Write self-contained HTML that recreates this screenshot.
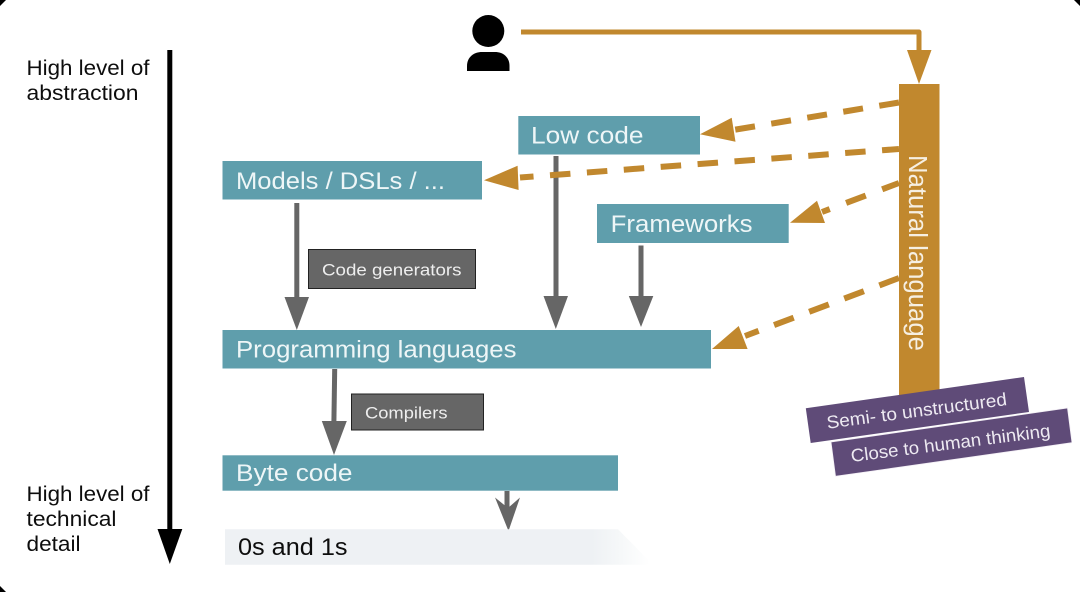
<!DOCTYPE html>
<html><head><meta charset="utf-8"><style>
html,body{margin:0;padding:0;background:#fff;width:1080px;height:592px;overflow:hidden}
svg{display:block}
text{font-family:"Liberation Sans",sans-serif}
</style></head><body>
<svg width="1080" height="592" viewBox="0 0 1080 592" xmlns="http://www.w3.org/2000/svg">
<defs>
<linearGradient id="f" gradientUnits="userSpaceOnUse" x1="592" y1="0" x2="650" y2="0">
<stop offset="0" stop-color="#eef1f4"/><stop offset="0.5" stop-color="#f6f8f9"/><stop offset="1" stop-color="#fff"/>
</linearGradient>
<filter id="b" x="0" y="0" width="100%" height="100%"><feGaussianBlur stdDeviation="0.35"/></filter>
</defs>
<rect width="1080" height="592" fill="#fff"/>
<g fill="#000">
<polygon points="0,0 6,0 0,6"/>
<polygon points="1080,0 1074,0 1080,6"/>
<polygon points="0,592 6,592 0,586"/>
</g>
<g filter="url(#b)">
<!-- left axis -->
<rect x="167.300" y="50" width="5" height="480" fill="#000"/>
<polygon points="157.500,529 182.300,529 169.800,564" fill="#000"/>
<g font-size="21" fill="#111">
<text x="26.500" y="75" textLength="123" lengthAdjust="spacingAndGlyphs">High level of</text>
<text x="26.500" y="100" textLength="112" lengthAdjust="spacingAndGlyphs">abstraction</text>
<text x="26.500" y="501" textLength="123" lengthAdjust="spacingAndGlyphs">High level of</text>
<text x="26.500" y="526" textLength="90" lengthAdjust="spacingAndGlyphs">technical</text>
<text x="26.500" y="551" textLength="54" lengthAdjust="spacingAndGlyphs">detail</text>
</g>

<!-- person -->
<ellipse cx="488.300" cy="31" rx="16" ry="16" fill="#000"/>
<path d="M467 71 V66 C467 57 474 52 482 52 H495 C503 52 509.500 57 509.500 66 V71 Z" fill="#000"/>

<!-- grey arrows -->
<g fill="#666" stroke="none">
<rect x="294.300" y="203" width="5" height="95"/>
<polygon points="284.500,297 309,297 296.800,330"/>
<rect x="553.500" y="156" width="5" height="141"/>
<polygon points="543.500,296 568,296 555.800,329"/>
<rect x="638.500" y="245.500" width="5" height="51"/>
<polygon points="628.800,296 653.300,296 641,327"/>
<polygon points="332.200,369 337.200,369 336.400,422 331.400,422"/>
<polygon points="321.800,421 346.800,421 334,455"/>
<rect x="504.500" y="491" width="5" height="20"/>
<polygon points="495,497.500 508,508 520,497.500 508.500,531"/>
</g>

<!-- teal boxes -->
<g fill="#5f9eac">
<rect x="222.500" y="161" width="259.500" height="38.500"/>
<rect x="518.300" y="116" width="181.700" height="38.500"/>
<rect x="597" y="204" width="191.700" height="39"/>
<rect x="222.500" y="330" width="488.500" height="38.500"/>
<rect x="222.500" y="455.300" width="395.500" height="35.400"/>
</g>
<g font-size="24" fill="#eef6f7">
<text x="236" y="189" textLength="209" lengthAdjust="spacingAndGlyphs">Models / DSLs / ...</text>
<text x="531" y="143.700" textLength="112.500" lengthAdjust="spacingAndGlyphs">Low code</text>
<text x="610.600" y="232" textLength="142" lengthAdjust="spacingAndGlyphs">Frameworks</text>
<text x="236" y="357.700" textLength="280.500" lengthAdjust="spacingAndGlyphs">Programming languages</text>
<text x="236" y="481" textLength="116.500" lengthAdjust="spacingAndGlyphs">Byte code</text>
</g>

<!-- 0s and 1s -->
<polygon points="225,529.300 618,529.300 653,564.700 225,564.700" fill="url(#f)"/>
<text x="238" y="555" font-size="24" fill="#111" textLength="109.500" lengthAdjust="spacingAndGlyphs">0s and 1s</text>

<!-- grey labels -->
<rect x="308.500" y="249.500" width="167" height="39" fill="#666" stroke="#222" stroke-width="1"/>
<text x="322" y="275.300" font-size="17" fill="#eee" textLength="139.500" lengthAdjust="spacingAndGlyphs">Code generators</text>
<rect x="351.500" y="394" width="132" height="36" fill="#666" stroke="#222" stroke-width="1"/>
<text x="365" y="418.700" font-size="17" fill="#eee" textLength="82.500" lengthAdjust="spacingAndGlyphs">Compilers</text>

<!-- natural language bar -->
<rect x="899" y="84" width="40.500" height="315" fill="#c1882e"/>
<text transform="translate(909,155) rotate(90)" font-size="25.500" fill="#f6efe2" textLength="196" lengthAdjust="spacingAndGlyphs">Natural language</text>

<!-- orange solid connector -->
<path d="M521 32 H919 V52" fill="none" stroke="#c1882e" stroke-width="5" stroke-linejoin="round"/>
<polygon points="907,50 931.500,50 919,84" fill="#c1882e"/>

<!-- orange dashed -->
<g stroke="#c1882e" stroke-width="6" fill="none">
<line x1="899" y1="102.500" x2="733" y2="130" stroke-dasharray="20 16.500"/>
<line x1="899" y1="149" x2="520" y2="177.500" stroke-dasharray="20.500 16.500" stroke-dashoffset="3.500"/>
<line x1="899" y1="183" x2="822" y2="212" stroke-dasharray="21 17.500" stroke-dashoffset="3"/>
<line x1="899" y1="278" x2="745" y2="336" stroke-dasharray="21 16.500"/>
</g>
<g fill="#c1882e">
<polygon points="700,134.300 731.700,117.700 735.500,141.800"/>
<polygon points="484,180.300 517.600,165.700 518.600,190"/>
<polygon points="790,222.700 817,200.700 825,223"/>
<polygon points="712,349 738.700,326 747.600,349"/>
</g>

<!-- purple tags -->
<polygon points="805.800,408.300 1024,377 1029,412 810.700,443" fill="#5f4c78"/>
<polygon points="831,442 1067.500,408 1072,442.700 835.500,476.300" fill="#5f4c78" stroke="#f4f0f6" stroke-width="0.800"/>
<text transform="translate(827.500,428.700) rotate(-7.500)" font-size="18" fill="#eeeaf2" textLength="181.500" lengthAdjust="spacingAndGlyphs">Semi- to unstructured</text>
<text transform="translate(851.600,462) rotate(-7.300)" font-size="18" fill="#eeeaf2" textLength="201" lengthAdjust="spacingAndGlyphs">Close to human thinking</text>
</g>
</svg>
</body></html>
